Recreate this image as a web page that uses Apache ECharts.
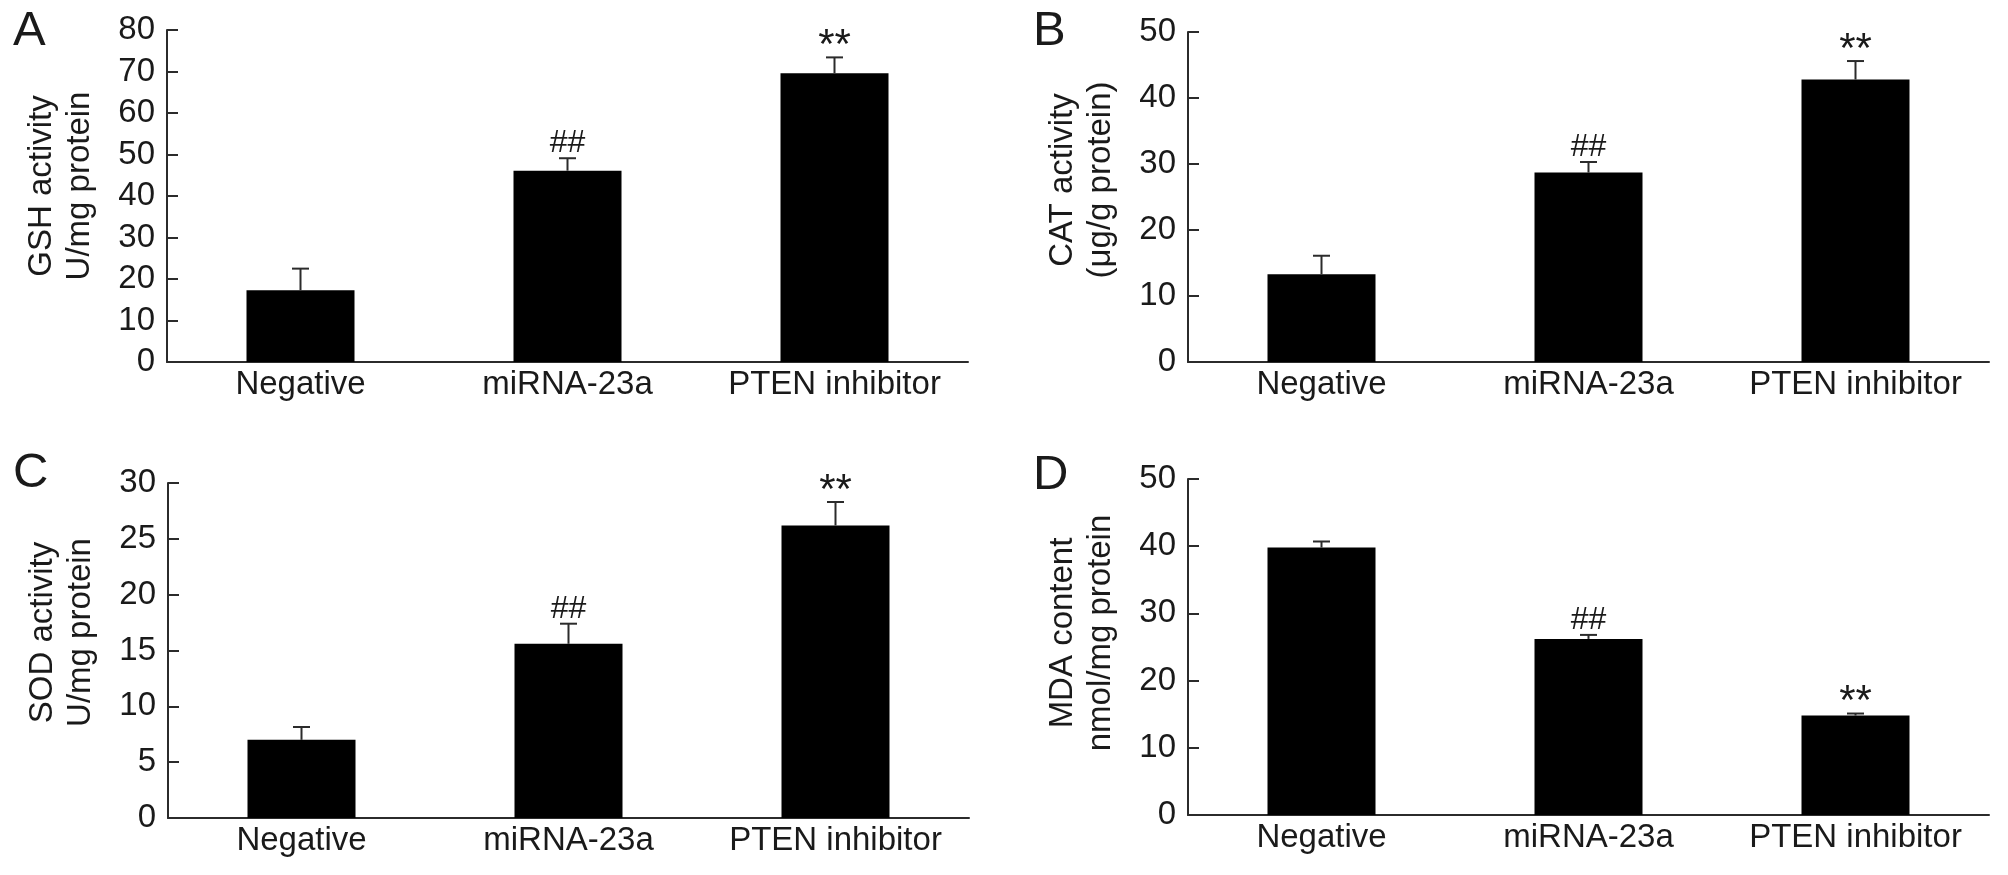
<!DOCTYPE html>
<html>
<head>
<meta charset="utf-8">
<script src="https://cdn.jsdelivr.net/npm/echarts/dist/echarts.min.js"></script>
<style>
  html, body { margin: 0; padding: 0; background: #fff; }
  #chart { width: 2008px; height: 875px; }
</style>
</head>
<body>
<div id="chart"></div>
<script>
// groups on the x axis, same for all four panels
const categories = ["Negative", "miRNA-23a", "PTEN inhibitor"];
const marks = ["", "##", "**"]; // significance above each bar

// A: GSH
const gsh_mean = [17.3, 46.1, 69.6];
const gsh_err = [5.2, 3.0, 3.8];
// B: CAT
const cat_mean = [13.3, 28.7, 42.8];
const cat_err = [2.8, 1.6, 2.8];
// C: SOD
const sod_mean = [7.0, 15.6, 26.2];
const sod_err = [1.15, 1.8, 2.1];
// D: MDA
const mda_mean = [39.8, 26.2, 14.8];
const mda_err = [0.9, 0.6, 0.3];

const FONT = '"Liberation Sans", Arial, Helvetica, sans-serif';
const INK = "#1a1a1a";
const LINE = "#2b2b2b";

const panels = [
    { letter: "A", title: "GSH activity\nU/mg protein", mean: gsh_mean, err: gsh_err, max: 80, step: 10,
      grid: { left: 167, top: 30, width: 801, height: 332 }, lift: 20, letter_pos: [13, 7] },
    { letter: "B", title: "CAT activity\n(μg/g protein)", mean: cat_mean, err: cat_err, max: 50, step: 10,
      grid: { left: 1188, top: 32, width: 801, height: 330 }, lift: 34, letter_pos: [1033, 7] },
    { letter: "C", title: "SOD activity\nU/mg protein", mean: sod_mean, err: sod_err, max: 30, step: 5,
      grid: { left: 168, top: 483, width: 801, height: 335 }, lift: 36, letter_pos: [13, 449] },
    { letter: "D", title: "MDA content\nnmol/mg protein", mean: mda_mean, err: mda_err, max: 50, step: 10,
      grid: { left: 1188, top: 479, width: 801, height: 336 }, lift: 28, letter_pos: [1033, 451] },
];

// draws upper whisker + cap + significance mark
function error_item(params, api) {
    const i = api.value(0);
    const base = api.coord([i, api.value(1)]);
    const top = api.coord([i, api.value(2)]);
    const half = 8.5;
    const star = marks[i] === "**"; // asterisks sit high in the glyph box, so bigger and lower
    return {
        type: "group",
        children: [
            { type: "line", shape: { x1: base[0], y1: base[1], x2: top[0], y2: top[1] },
              style: { stroke: LINE, lineWidth: 2 } },
            { type: "line", shape: { x1: top[0] - half, y1: top[1], x2: top[0] + half, y2: top[1] },
              style: { stroke: LINE, lineWidth: 2 } },
            { type: "text", x: top[0], y: top[1] + (star ? 10 : 1),
              style: { text: marks[i], fill: INK, font: (star ? "42px " : "32px ") + FONT,
                       align: "center", verticalAlign: "bottom" } },
        ],
    };
}

const grid = [], xAxis = [], yAxis = [], series = [], graphic = [];

panels.forEach((p, k) => {
    grid.push(p.grid);
    xAxis.push({
        type: "category",
        gridIndex: k,
        data: categories,
        axisLine: { lineStyle: { color: LINE, width: 2 } },
        axisTick: { inside: true, length: 11, lineStyle: { color: LINE, width: 2 } },
        axisLabel: { color: INK, fontSize: 33, fontFamily: FONT, margin: 6, interval: 0 },
        splitLine: { show: false },
    });
    yAxis.push({
        type: "value",
        gridIndex: k,
        min: 0,
        max: p.max,
        interval: p.step,
        name: p.title,
        nameLocation: "middle",
        nameGap: 68,
        nameTextStyle: { color: INK, fontSize: 33, fontFamily: FONT, lineHeight: 38, padding: [0, 0, 0, p.lift] },
        axisLine: { show: true, lineStyle: { color: LINE, width: 2 } },
        axisTick: { show: true, inside: true, length: 11, lineStyle: { color: LINE, width: 2 } },
        axisLabel: { color: INK, fontSize: 33, fontFamily: FONT, margin: 12 },
        splitLine: { show: false },
    });
    series.push({
        type: "bar",
        xAxisIndex: k,
        yAxisIndex: k,
        data: p.mean,
        barWidth: 108,
        itemStyle: { color: "#000" },
        silent: true,
    });
    series.push({
        type: "custom",
        xAxisIndex: k,
        yAxisIndex: k,
        renderItem: error_item,
        data: categories.map((c, i) => [i, p.mean[i], p.mean[i] + p.err[i]]),
        encode: { x: 0, y: [1, 2] },
        z: 5,
        silent: true,
    });
    graphic.push({
        type: "text",
        left: p.letter_pos[0],
        top: p.letter_pos[1],
        style: { text: p.letter, fill: INK, font: "49px " + FONT },
    });
});

const chart = echarts.init(document.getElementById("chart"), null, { renderer: "canvas" });
chart.setOption({
    animation: false,
    backgroundColor: "#fff",
    grid,
    xAxis,
    yAxis,
    series,
    graphic,
});
</script>
</body>
</html>
